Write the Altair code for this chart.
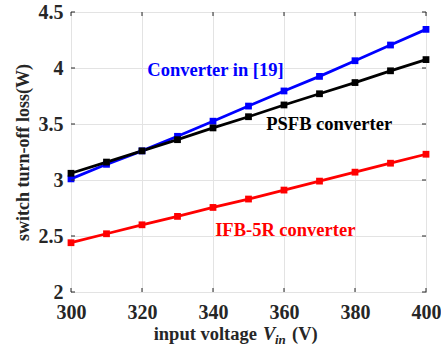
import altair as alt
import pandas as pd

vin = [300, 310, 320, 330, 340, 350, 360, 370, 380, 390, 400]
conv19 = [3.01, 3.14, 3.26, 3.39, 3.525, 3.66, 3.795, 3.925, 4.065, 4.205, 4.345]
psfb = [3.06, 3.16, 3.26, 3.36, 3.465, 3.565, 3.67, 3.77, 3.87, 3.975, 4.075]
ifb5r = [2.44, 2.52, 2.60, 2.675, 2.755, 2.83, 2.91, 2.99, 3.07, 3.15, 3.23]

series_names = ["Converter in [19]", "PSFB converter", "IFB-5R converter"]
series_colors = ["#0000FF", "#000000", "#FF0000"]

x_ticks = [300, 320, 340, 360, 380, 400]
y_ticks = [2, 2.5, 3, 3.5, 4, 4.5]

# annotation labels (data coords)
lab_x = [321.5, 355.0, 340.6]
lab_y = [3.98, 3.50, 2.55]

FONT = "Liberation Serif"

rows = []
for name, vals in zip(series_names, [conv19, psfb, ifb5r]):
    for v, p in zip(vin, vals):
        rows.append({"vin": v, "loss": p, "series": name})
df = pd.DataFrame(rows)

xs = alt.Scale(domain=[300, 400], nice=False)
ys = alt.Scale(domain=[2, 4.5], nice=False)
cs = alt.Scale(domain=series_names, range=series_colors)

W, H = 355, 280

base = alt.Chart(df).encode(
    x=alt.X("vin:Q", scale=xs,
            axis=alt.Axis(values=x_ticks, title=None, grid=True, gridColor="#E3E3E3",
                          domain=False, ticks=False, labelFont=FONT, labelFontSize=20,
                          labelFontWeight="bold", labelColor="#262626", labelPadding=10,
                          labelFlush=False, labelOverlap=False)),
    y=alt.Y("loss:Q", scale=ys,
            axis=alt.Axis(values=y_ticks, title="switch turn-off loss(W)", grid=True,
                          gridColor="#E3E3E3", domain=False, ticks=False, labelFont=FONT,
                          labelFontSize=20, labelFontWeight="bold", labelColor="#262626",
                          labelPadding=8, titleFont=FONT, titleFontSize=18,
                          titleFontWeight="bold", titleColor="#262626", titlePadding=6,
                          format="~g", labelFlush=False, labelOverlap=False)),
    color=alt.Color("series:N", scale=cs, legend=None),
    detail="series:N",
)

lines = base.mark_line(strokeWidth=2.8)
points = base.mark_square(size=46, opacity=1, filled=True)

# inward ticks
xt = pd.DataFrame({"t": x_ticks})
yt = pd.DataFrame({"t": y_ticks})
tick_bot = alt.Chart(xt).mark_rule(color="#262626", strokeWidth=1).encode(
    x=alt.X("t:Q", scale=xs), y=alt.value(H), y2=alt.value(H - 4))
tick_top = alt.Chart(xt).mark_rule(color="#262626", strokeWidth=1).encode(
    x=alt.X("t:Q", scale=xs), y=alt.value(0), y2=alt.value(4))
tick_l = alt.Chart(yt).mark_rule(color="#262626", strokeWidth=1).encode(
    y=alt.Y("t:Q", scale=ys), x=alt.value(0), x2=alt.value(4))
tick_r = alt.Chart(yt).mark_rule(color="#262626", strokeWidth=1).encode(
    y=alt.Y("t:Q", scale=ys), x=alt.value(W), x2=alt.value(W - 4))

lab_df = pd.DataFrame({"x": lab_x, "y": lab_y, "label": series_names})
labels = alt.Chart(lab_df).mark_text(
    font=FONT, fontSize=18.5, fontWeight="bold", align="left", baseline="middle"
).encode(
    x=alt.X("x:Q", scale=xs), y=alt.Y("y:Q", scale=ys),
    text="label:N",
    color=alt.Color("label:N", scale=cs, legend=None),
)

# x axis title with italic V and subscript
tdf = pd.DataFrame({"a": [0]})
t1 = alt.Chart(tdf).mark_text(font=FONT, fontSize=18.5, fontWeight="bold", align="right",
                              baseline="alphabetic", color="#262626").encode(
    x=alt.value(186), y=alt.value(328), text=alt.value("input voltage"))
t2 = alt.Chart(tdf).mark_text(font=FONT, fontSize=18.5, fontWeight="bold", fontStyle="italic",
                              align="left", baseline="alphabetic", color="#262626").encode(
    x=alt.value(192), y=alt.value(328), text=alt.value("V"))
t3 = alt.Chart(tdf).mark_text(font=FONT, fontSize=13, fontWeight="bold", fontStyle="italic",
                              align="left", baseline="alphabetic", color="#262626").encode(
    x=alt.value(204), y=alt.value(332), text=alt.value("in"))
t4 = alt.Chart(tdf).mark_text(font=FONT, fontSize=18.5, fontWeight="bold",
                              align="left", baseline="alphabetic", color="#262626").encode(
    x=alt.value(221), y=alt.value(328), text=alt.value("(V)"))

chart = alt.layer(
    lines, points, tick_bot, tick_top, tick_l, tick_r, labels, t1, t2, t3, t4
).properties(
    width=W, height=H,
    autosize=alt.AutoSizeParams(type="none"),
    padding={"left": 71, "top": 12, "right": 15, "bottom": 59},
    background="white",
).configure_view(stroke="#262626", strokeWidth=1)

chart.save("out.html", embed_options={"renderer": "svg", "actions": False})
